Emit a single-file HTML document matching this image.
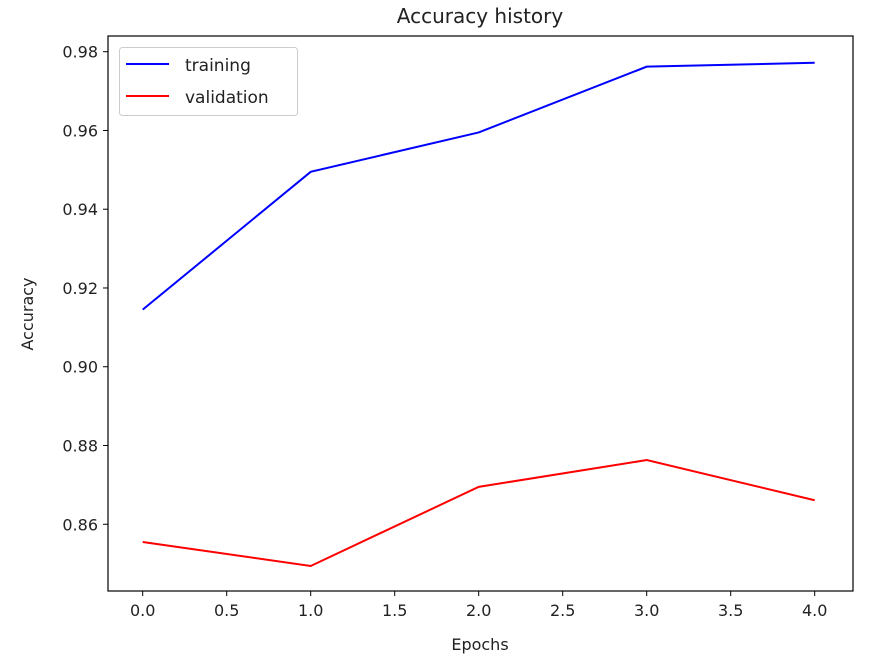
<!DOCTYPE html>
<html><head><meta charset="utf-8"><style>
body{margin:0;background:#fff;}
text{font-family:"DejaVu Sans","Liberation Sans",sans-serif;fill:#222;}
</style></head><body>
<svg id="chart" width="872" height="663">
<text x="480" y="23" font-size="20" text-anchor="middle">Accuracy history</text>
<text x="480" y="650" font-size="16" text-anchor="middle">Epochs</text>
<text transform="translate(33,314) rotate(-90)" font-size="16" text-anchor="middle">Accuracy</text>
<g id="ticks"></g>
<g id="lines"></g>
<rect x="108" y="36" width="745" height="555" fill="none" stroke="#000" stroke-width="1.2"/>
<g>
<rect x="119.5" y="47.5" width="178" height="68" rx="3" fill="#fff" stroke="#ccc"/>
<line x1="126" y1="64" x2="169" y2="64" stroke="#0000ff" stroke-width="2"/>
<text x="185" y="71" font-size="17">training</text>
<line x1="126" y1="96" x2="169" y2="96" stroke="#ff0000" stroke-width="2"/>
<text x="185" y="103" font-size="17">validation</text>
</g>
</svg>
<script>
const epochs=[0,1,2,3,4];
const training=[0.9145,0.9495,0.9595,0.9762,0.9772];
const validation=[0.8555,0.8494,0.8695,0.8763,0.8661];
const xTicks=[0,0.5,1,1.5,2,2.5,3,3.5,4];
const yTicks=[0.86,0.88,0.90,0.92,0.94,0.96,0.98];
const NS="http://www.w3.org/2000/svg";
const xs=v=>142.7+v*168;
const ys=v=>51.7+(0.98-v)*3938;
const tg=document.getElementById('ticks'), lg=document.getElementById('lines');
function mk(t,a){const e=document.createElementNS(NS,t);for(const k in a)e.setAttribute(k,a[k]);return e;}
xTicks.forEach(v=>{
 const l=mk('line',{x1:xs(v),x2:xs(v),y1:591,y2:596,stroke:'#000'});
 
 
 tg.appendChild(l);
 const t=mk('text',{x:xs(v),y:616,'font-size':16,'text-anchor':'middle'});
 
 
 t.textContent=v.toFixed(1);tg.appendChild(t);
});
yTicks.forEach(v=>{
 const l=mk('line',{x1:103,x2:108,y1:ys(v),y2:ys(v),stroke:'#000'});
 
 
 tg.appendChild(l);
 const t=mk('text',{x:98,y:ys(v)+6,'font-size':16,'text-anchor':'end'});
 
 
 t.textContent=v.toFixed(2);tg.appendChild(t);
});
function series(d,c,n){
 const p=mk('polyline',{points:d.map((v,i)=>xs(epochs[i])+','+ys(v)).join(' '),fill:'none',stroke:c,'stroke-width':2});
 
 
 lg.appendChild(p);
}
series(training,'#0000ff','training-line');
series(validation,'#ff0000','validation-line');
</script>
</body></html>
